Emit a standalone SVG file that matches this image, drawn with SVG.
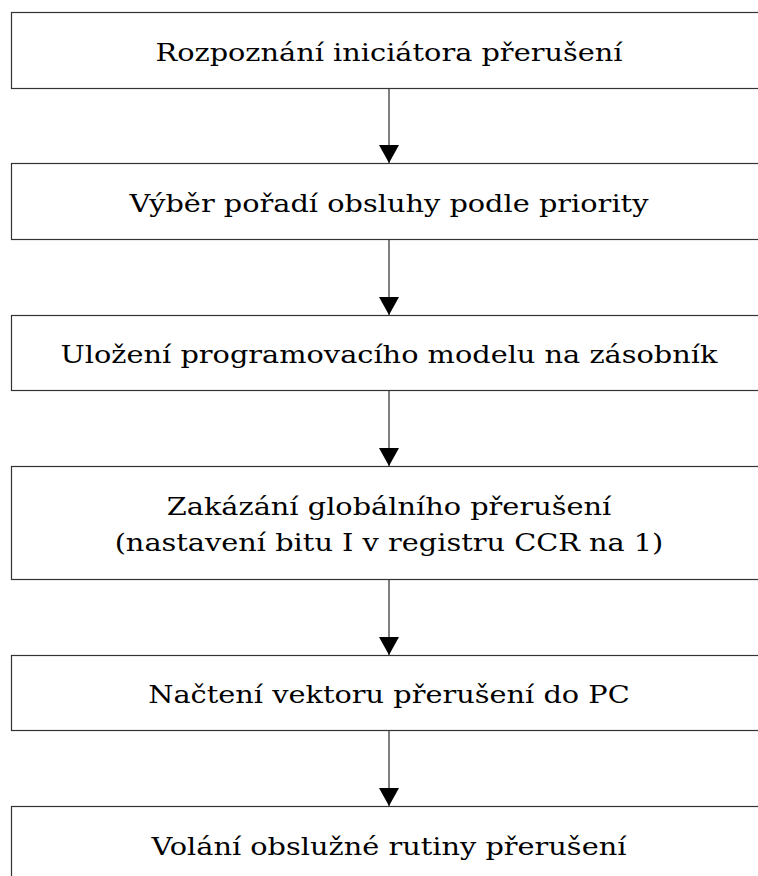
<svg xmlns="http://www.w3.org/2000/svg" width="758" height="876" viewBox="0 0 758 876">
  <defs>
    <style>
      .box { fill: #ffffff; stroke: #333333; stroke-width: 1.2; }
      .lbl { font-family: "DejaVu Serif", serif; font-size: 24.6px; fill: #000000; text-anchor: middle; }
      .edge { stroke: #555555; stroke-width: 1.5; fill: none; }
    </style>
    <marker id="arrow" viewBox="0 0 18 20" refX="18" refY="10" markerWidth="18" markerHeight="20" markerUnits="userSpaceOnUse" orient="auto">
      <path d="M0,0 L18,10 L0,20 Z" fill="#000000"/>
    </marker>
  </defs>
  <rect width="758" height="876" fill="#ffffff"/>

  <g id="connectors">
    <line class="edge" x1="389" y1="88" x2="389" y2="163" marker-end="url(#arrow)"/>
    <line class="edge" x1="389" y1="239" x2="389" y2="315" marker-end="url(#arrow)"/>
    <line class="edge" x1="389" y1="390" x2="389" y2="466" marker-end="url(#arrow)"/>
    <line class="edge" x1="389" y1="579" x2="389" y2="655" marker-end="url(#arrow)"/>
    <line class="edge" x1="389" y1="730" x2="389" y2="806" marker-end="url(#arrow)"/>
  </g>

  <!-- labels are set slightly wide: horizontal scale 1.17 about x=389 -->
  <g id="n1">
    <rect class="box" x="11.5" y="12.5" width="760" height="76"/>
    <text class="lbl" x="389" y="61" transform="matrix(1.17 0 0 1 -66.13 0)">Rozpoznání iniciátora přerušení</text>
  </g>
  <g id="n2">
    <rect class="box" x="11.5" y="163.5" width="760" height="76"/>
    <text class="lbl" x="389" y="212" transform="matrix(1.17 0 0 1 -66.13 0)">Výběr pořadí obsluhy podle priority</text>
  </g>
  <g id="n3">
    <rect class="box" x="11.5" y="315.5" width="760" height="75"/>
    <text class="lbl" x="389" y="363" transform="matrix(1.17 0 0 1 -66.13 0)">Uložení programovacího modelu na zásobník</text>
  </g>
  <g id="n4">
    <rect class="box" x="11.5" y="466.5" width="760" height="113"/>
    <text class="lbl" x="389" y="515" transform="matrix(1.17 0 0 1 -66.13 0)">Zakázání globálního přerušení</text>
    <text class="lbl" x="389" y="551" transform="matrix(1.17 0 0 1 -66.13 0)">(nastavení bitu I v registru CCR na 1)</text>
  </g>
  <g id="n5">
    <rect class="box" x="11.5" y="655.5" width="760" height="75"/>
    <text class="lbl" x="389" y="703" transform="matrix(1.17 0 0 1 -66.13 0)">Načtení vektoru přerušení do PC</text>
  </g>
  <g id="n6">
    <rect class="box" x="11.5" y="806.5" width="760" height="100"/>
    <text class="lbl" x="389" y="855" transform="matrix(1.17 0 0 1 -66.13 0)">Volání obslužné rutiny přerušení</text>
  </g>
</svg>
